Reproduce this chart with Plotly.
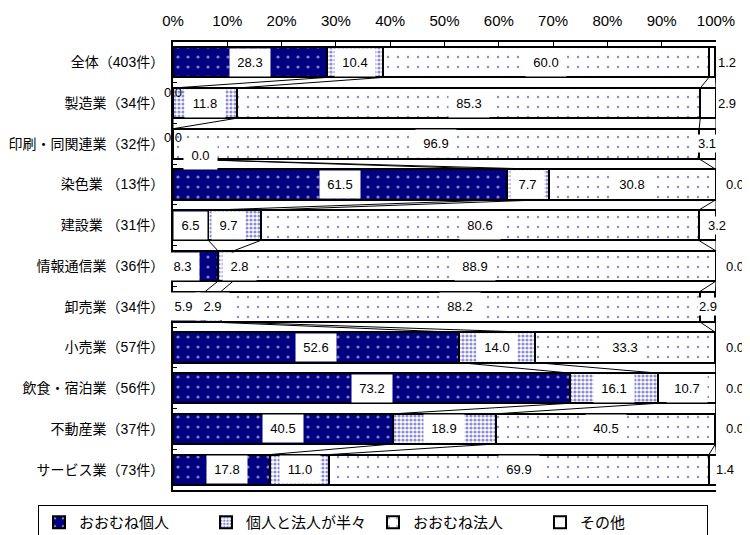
import numpy as np
import plotly.graph_objects as go

categories = ["全体（403件）", "製造業（34件）", "印刷・同関連業（32件）", "染色業 （13件）",
              "建設業 （31件）", "情報通信業（36件）", "卸売業（34件）", "小売業（57件）",
              "飲食・宿泊業（56件）", "不動産業（37件）", "サービス業（73件）"]
series_names = ["おおむね個人", "個人と法人が半々", "おおむね法人", "その他"]
individual = [28.3, 0.0, 0.0, 61.5, 6.5, 8.3, 5.9, 52.6, 73.2, 40.5, 17.8]
half_half = [10.4, 11.8, 0.0, 7.7, 9.7, 2.8, 2.9, 14.0, 16.1, 18.9, 11.0]
corporate = [60.0, 85.3, 96.9, 30.8, 80.6, 88.9, 88.2, 33.3, 10.7, 40.5, 69.9]
other = [1.2, 2.9, 3.1, 0.0, 3.2, 0.0, 2.9, 0.0, 0.0, 0.0, 1.4]
x_ticks = list(range(0, 101, 10))

series = [individual, half_half, corporate, other]

NAVY = "#000080"
styles = [
    dict(color=NAVY, pattern=dict(shape=".", fgcolor="white", bgcolor=NAVY, size=10, solidity=0.08)),
    dict(color="white", pattern=dict(shape=".", fgcolor="#1c1ca8", bgcolor="white", size=4, solidity=0.5)),
    dict(color="white", pattern=dict(shape=".", fgcolor="#20209a", bgcolor="white", size=10, solidity=0.05)),
    dict(color="white"),
]

FONT = "Liberation Sans, Arial, Noto Sans CJK JP"
BARGAP = 0.26
W, H = 750, 535
OFF = 8  # page body margin
PL, PR, PT, PB = 173 - OFF, 716 - OFF, 42 - OFF, 490 - OFF  # plot area in figure px
PW, PH = PR - PL, PB - PT

fig = go.Figure()
for name, vals, st in zip(series_names, series, styles):
    fig.add_trace(go.Bar(
        y=categories, x=vals, name=name, orientation="h",
        marker=dict(**st, line=dict(color="black", width=2)),
        hoverinfo="skip",
    ))

# label placement tweaks (pixels) for crowded/zero segments
label_nudge = {
    (1, 0): (0, 11), (2, 0): (0, 6), (2, 1): (27, -12),
    (4, 1): (-6, 0), (5, 0): (-13, 0), (5, 1): (14, 0),
    (6, 0): (-6, 0), (10, 0): (6, 0),
}
no_box = {(1, 0), (2, 0)}
other_shift = [11, 11, -9, 19, 1, 19, -8, 19, 19, 19, 9]

cum = np.cumsum(np.array(series), axis=0)  # shape (4, n)
annotations = []
for i, cat in enumerate(categories):
    for s in range(4):
        v = series[s][i]
        txt = f"{v:.1f}"
        if s < 3:
            xc = cum[s][i] - v / 2
            dx, dy = label_nudge.get((i, s), (0, 0))
            boxed = (i, s) not in no_box
            ann = dict(
                x=xc, y=cat, xref="x", yref="y", text=txt, showarrow=False,
                xshift=dx, yshift=dy, borderpad=1,
                font=dict(size=13, color="black", family=FONT))
            if boxed:
                ann.update(bgcolor="white", width=7 * len(txt) + 10, height=25)
            annotations.append(ann)
        else:
            annotations.append(dict(
                x=100, y=cat, xref="x", yref="y", text=txt, showarrow=False,
                xshift=other_shift[i], bgcolor="white", borderpad=1,
                font=dict(size=13, color="black", family=FONT)))

# series lines connecting segment boundaries between consecutive bars
half_h = (1 - BARGAP) / 2
shapes = []
n = len(categories)
for i in range(n - 1):
    for s in range(4):
        shapes.append(dict(
            type="line", xref="x", yref="y",
            x0=float(cum[s][i]), y0=i + half_h,
            x1=float(cum[s][i + 1]), y1=i + 1 - half_h,
            line=dict(color="black", width=1)))

fig.update_layout(
    barmode="stack", bargap=BARGAP,
    width=W, height=H,
    margin=dict(l=PL, r=W - PR, t=PT, b=H - PB, autoexpand=False),
    paper_bgcolor="white", plot_bgcolor="white",
    font=dict(family=FONT, size=13, color="black"),
    annotations=annotations, shapes=shapes,
    showlegend=True,
    legend=dict(orientation="h",
                x=(38 - OFF - PL) / PW, xanchor="left", y=-(505 - 490) / PH, yanchor="top",
                font=dict(size=15, family=FONT), bordercolor="black", borderwidth=1,
                bgcolor="white", entrywidth=122, traceorder="normal"),
)
fig.update_xaxes(
    side="top", range=[0, 100], tickvals=x_ticks, ticktext=[f"{t}%" for t in x_ticks],
    showline=True, linewidth=2, linecolor="black", mirror=True,
    ticks="inside", ticklen=4, tickcolor="black", tickwidth=1, automargin=False,
    showgrid=False, zeroline=False, tickfont=dict(size=15), ticklabelstandoff=8,
)
fig.update_yaxes(
    autorange="reversed", showline=True, linewidth=2, linecolor="black",
    ticks="inside", ticklen=4, tickson="boundaries", tickcolor="black", automargin=False,
    showgrid=False, zeroline=False, tickfont=dict(size=14), ticklabelstandoff=4,
)

fig.write_html("out.html")
